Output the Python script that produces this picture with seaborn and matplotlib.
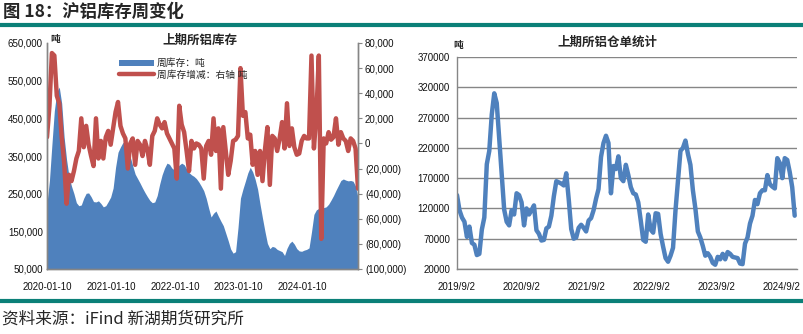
import matplotlib
matplotlib.use("Agg")
import matplotlib.pyplot as plt
import matplotlib.ticker as mticker
from matplotlib.patches import Patch
from matplotlib.lines import Line2D
import numpy as np
import pandas as pd
import seaborn as sns

# ---- 上期所铝库存（周度，双周采样，单位：千吨） ----
inv_start = "2020-01-10"
weekly_stock_k = [
    225, 285, 380, 470, 520, 533, 490, 400, 340, 295, 270, 250, 226, 218, 220, 238,
    251, 252, 242, 229, 228, 231, 224, 215, 218, 229, 241, 265, 320, 360, 374, 386,
    382, 365, 348, 324, 302, 290, 278, 265, 253, 242, 232, 226, 228, 245, 275, 300,
    318, 331, 328, 318, 313, 319, 326, 331, 327, 316, 306, 300, 296, 290, 281, 270,
    258, 238, 212, 188, 198, 204, 190, 177, 165, 145, 125, 103, 92, 96, 160, 238,
    262, 283, 305, 320, 308, 288, 262, 222, 185, 150, 118, 104, 110, 108, 102, 99,
    96, 86, 105, 118, 124, 116, 104, 98, 97, 100, 102, 106, 148, 195, 207, 211,
    212, 213, 215, 222, 233, 245, 259, 272, 285, 289, 286, 284, 285, 283, 270, 240,
    230,
]
# 周库存增减（右轴，千吨）
weekly_change_k = [
    5, 30, 72, 70, 38, 32, 5, -15, -48, -25, -30, -22, -12, -6, 20, -3,
    14, -1, -10, -18, 20, -12, 2, -12, 5, 10, -1, 12, 25, 33, 14, 8,
    4, -20, 0, 4, -17, 2, -1, -10, 2, -5, -17, 6, 10, 20, 15, 12,
    17, 8, 4, 0, -4, -28, 30, 15, 9, -6, -22, 2, -4, 0, -1, -4,
    -28, -2, 2, -9, 20, -6, 12, -36, 13, -6, -25, -14, 2, 3, 6, 60,
    22, 25, 4, 7, -17, -6, -25, -6, -30, -5, 13, -33, 6, 4, -6, 4,
    17, -4, 32, -2, 12, -3, -9, -8, 2, 6, 4, 4, 70, -4, 23, 70,
    -76, 4, 0, 9, 3, 5, 20, -1, 9, 4, 2, -6, 4, 2, -4, -36,
    -1,
]

# ---- 上期所铝仓单（双周采样，单位：千吨） ----
wr_start = "2019-09-02"
warrant_k = [
    142, 117, 105, 98, 73, 90, 63, 60, 43, 45, 85, 105, 193, 215, 275, 310,
    294, 235, 178, 118, 98, 92, 117, 110, 145, 142, 130, 92, 120, 110, 117, 125,
    84, 78, 67, 68, 87, 90, 108, 140, 165, 163, 161, 158, 178, 135, 86, 70,
    72, 88, 93, 88, 82, 100, 104, 117, 136, 152, 205, 228, 240, 228, 145, 190,
    185, 206, 170, 165, 192, 175, 155, 145, 143, 130, 100, 68, 65, 110, 85, 80,
    112, 111, 78, 57, 38, 32, 42, 55, 117, 165, 215, 220, 232, 210, 192, 150,
    120, 82, 72, 58, 42, 46, 40, 30, 27, 40, 36, 45, 36, 48, 45, 40,
    39, 38, 29, 28, 62, 72, 95, 108, 134, 127, 145, 150, 150, 175, 160, 156,
    153, 203, 195, 170, 203, 200, 180, 155, 108,
]

left_title = "上期所铝库存"
right_title = "上期所铝仓单统计"
legend_labels = ["周库存：吨", "周库存增减：右轴 吨"]
left_xticks = ["2020-01-10", "2021-01-10", "2022-01-10", "2023-01-10", "2024-01-10"]
right_xticks = ["2019-09-02", "2020-09-02", "2021-09-02", "2022-09-02", "2023-09-02", "2024-09-02"]

BLUE = "#4F81BD"
RED = "#C0504D"
TEAL = "#0B8078"
GRID = "#868686"

sns.set_style("white")
plt.rcParams["font.family"] = ["Liberation Sans", "Noto Sans CJK SC", "DejaVu Sans"]
plt.rcParams["axes.unicode_minus"] = False

inv_dates = pd.date_range(inv_start, periods=len(weekly_stock_k), freq="14D")
inv_df = pd.DataFrame({
    "date": inv_dates,
    "stock": np.array(weekly_stock_k) * 1000,
    "change": np.array(weekly_change_k) * 1000,
})
wr_dates = pd.date_range(wr_start, periods=len(warrant_k), freq="14D")
wr_df = pd.DataFrame({"date": wr_dates, "warrant": np.array(warrant_k) * 1000})

fig = plt.figure(figsize=(8.04, 3.34), dpi=100)

# ---------------- left panel ----------------
H = 334.0
W = 804.0
ax = fig.add_axes([47 / W, 1 - 269 / H, (358 - 47) / W, (269 - 43) / H])
ax.fill_between(inv_df["date"], 50000, inv_df["stock"], color=BLUE, lw=0)
ax.set_ylim(50000, 650000)
ax.set_yticks(np.arange(50000, 650001, 100000))
ax.yaxis.set_major_formatter(mticker.FuncFormatter(lambda v, p: f"{int(v):,}"))
ax.set_xticks(pd.to_datetime(left_xticks))
ax.set_xticklabels(left_xticks)

ax2 = ax.twinx()
sns.lineplot(data=inv_df, x="date", y="change", ax=ax2, color=RED, lw=3.2)
ax2.set_ylim(-100000, 80000)
ax2.set_yticks(np.arange(-100000, 80001, 20000))


def paren_fmt(v, p):
    v = int(round(v))
    if v < 0:
        return f"({-v:,})"
    return f"{v:,}"


ax2.yaxis.set_major_formatter(mticker.FuncFormatter(paren_fmt))
ax2.set_xlabel("")
ax2.set_ylabel("")
ax.set_xlabel("")
ax.set_ylabel("")

for a in (ax, ax2):
    for s in a.spines.values():
        s.set_color(GRID)
        s.set_linewidth(1.0)
    a.spines["top"].set_visible(False)
ax.tick_params(axis="y", length=0, labelsize=7, pad=3, colors="#111111")
ax.tick_params(axis="x", length=0, labelsize=7, pad=9, colors="#111111")
ax2.tick_params(axis="y", length=3, labelsize=7, pad=2, colors="#111111")
ax2.tick_params(axis="y", color=GRID)
ax.set_xlim(inv_df["date"].iloc[0], pd.Timestamp("2024-11-22"))

handles = [Patch(facecolor=BLUE, edgecolor="none"), Line2D([0], [0], color=RED, lw=3.2)]
ax2.legend(handles, legend_labels, loc="upper left", bbox_to_anchor=(0.215, 0.955),
           frameon=False, fontsize=7, handlelength=3.6, handleheight=0.6,
           handletextpad=0.3, labelspacing=0.15, borderpad=0)

fig.text(200 / W, 1 - 40 / H, left_title, ha="center", va="center",
         fontsize=9, fontweight="bold", family=["Noto Sans CJK SC"])
fig.text(50 / W, 1 - 39 / H, "吨", ha="left", va="center",
         fontsize=7, fontweight="bold", family=["Noto Sans CJK SC"])

# ---------------- right panel ----------------
axr = fig.add_axes([457 / W, 1 - 269 / H, (797 - 457) / W, (269 - 57) / H])
sns.lineplot(data=wr_df, x="date", y="warrant", ax=axr, color=BLUE, lw=3.2)
axr.set_ylim(20000, 370000)
axr.set_yticks(np.arange(20000, 370001, 50000))
axr.yaxis.set_major_formatter(mticker.FuncFormatter(lambda v, p: f"{int(v)}"))
axr.set_xlim(pd.Timestamp(wr_start), pd.Timestamp("2024-12-01"))
rt = pd.to_datetime(right_xticks)
axr.set_xticks(rt)
axr.set_xticklabels([f"{d.year}/{d.month}/{d.day}" for d in rt])
axr.grid(axis="y", color=GRID, lw=1.0)
axr.grid(axis="x", visible=False)
axr.set_xlabel("")
axr.set_ylabel("")
for k, s in axr.spines.items():
    s.set_color(GRID)
    s.set_linewidth(1.0)
axr.spines["right"].set_visible(False)
axr.spines["top"].set_visible(False)
axr.tick_params(axis="y", length=0, labelsize=7, pad=5, colors="#111111")
axr.tick_params(axis="x", length=0, labelsize=7, pad=9, colors="#111111")

fig.text(607 / W, 1 - 42 / H, right_title, ha="center", va="center",
         fontsize=9, fontweight="bold", family=["Noto Sans CJK SC"])
fig.text(458 / W, 1 - 45 / H, "吨", ha="center", va="center",
         fontsize=7, fontweight="bold", family=["Noto Sans CJK SC"])

# ---------------- header / footer ----------------
fig.text(3 / W, 1 - 12 / H, "图 18：沪铝库存周变化", ha="left", va="center",
         fontsize=12.5, fontweight="bold", family=["Noto Sans CJK SC"])
fig.add_artist(Line2D([0, 1], [1 - 25 / H, 1 - 25 / H], transform=fig.transFigure,
                      color=TEAL, lw=3.0))
fig.add_artist(Line2D([0, 1], [1 - 301 / H, 1 - 301 / H], transform=fig.transFigure,
                      color=TEAL, lw=3.0))
fig.text(2 / W, 1 - 319 / H, "资料来源：iFind 新湖期货研究所", ha="left", va="center",
         fontsize=12, family=["Noto Sans CJK SC"])

fig.savefig("out.png", dpi=100)
